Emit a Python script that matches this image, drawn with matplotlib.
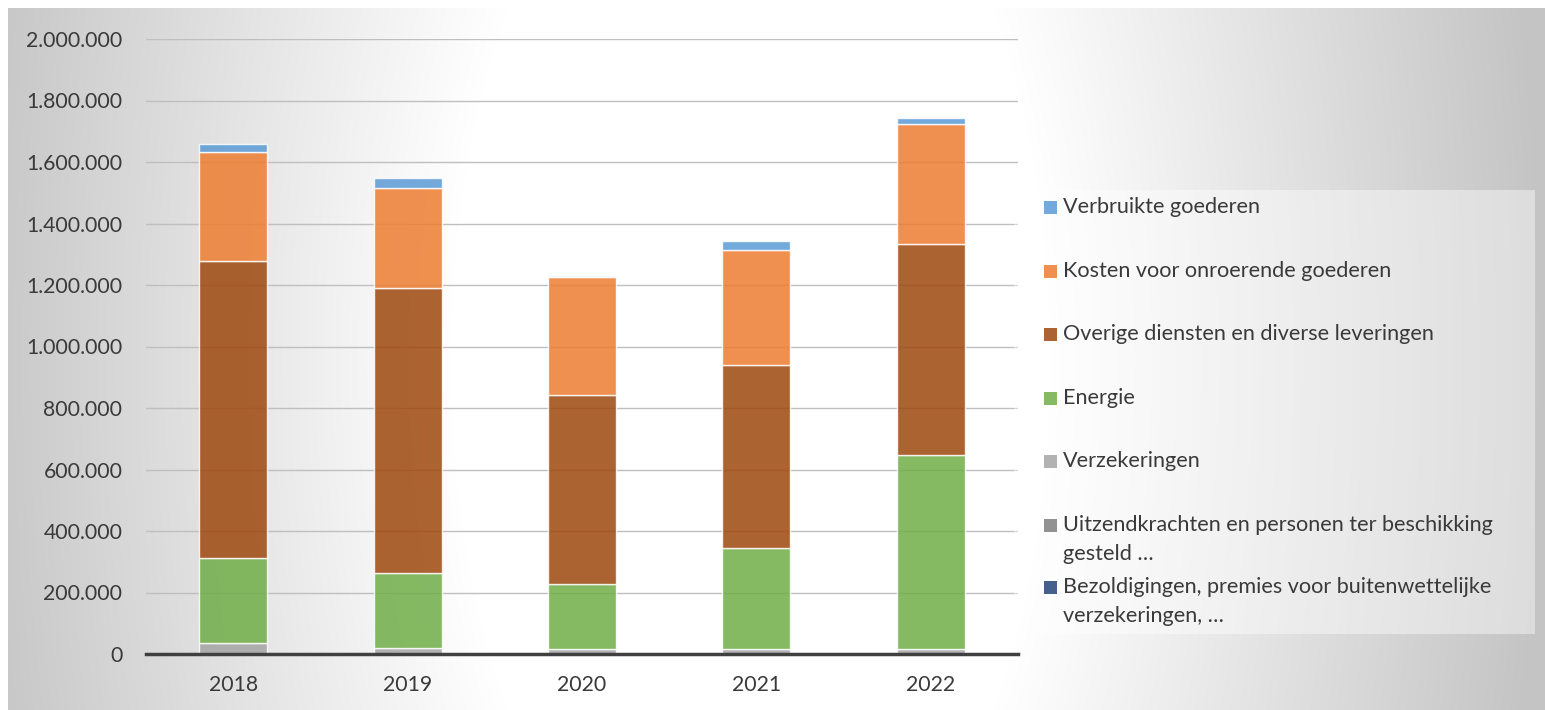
import numpy as np
import matplotlib
matplotlib.use("Agg")
import matplotlib.pyplot as plt
from matplotlib.patches import Rectangle
from matplotlib.ticker import FuncFormatter

# data (euro)
years = ["2018", "2019", "2020", "2021", "2022"]
bezoldigingen = [0, 0, 0, 0, 0]
uitzendkrachten = [0, 0, 0, 0, 0]
verzekeringen = [35000, 18000, 16000, 16000, 16000]
energie = [278000, 246000, 211000, 330000, 631000]
overige = [964000, 925000, 616000, 595000, 686000]
kosten = [355000, 328000, 383000, 373000, 392000]
verbruikte = [26000, 31000, 2000, 29000, 17000]

labels = [
    "Bezoldigingen, premies voor buitenwettelijke\nverzekeringen, \u2026",
    "Uitzendkrachten en personen ter beschikking\ngesteld \u2026",
    "Verzekeringen",
    "Energie",
    "Overige diensten en diverse leveringen",
    "Kosten voor onroerende goederen",
    "Verbruikte goederen",
]
series = [bezoldigingen, uitzendkrachten, verzekeringen, energie, overige, kosten, verbruikte]
colors = ["#264478", "#7f7f7f", "#a5a5a5", "#70ad47", "#9e480e", "#ed7d31", "#5b9bd5"]

W, H = 1545, 710
FONT = "Lato"
TXT = "#3a3a3a"

plt.rcParams["font.family"] = [FONT, "DejaVu Sans"]

fig = plt.figure(figsize=(W / 100, H / 100), dpi=100)

# background: soft radial-ish gradient, white 8px strip top/left
bg = fig.add_axes([0, 0, 1, 1], zorder=-10)
xx, yy = np.meshgrid(np.arange(W), np.arange(H))
eff = np.sqrt((xx - 750.0) ** 2 + ((yy - 360.0) * 0.5) ** 2)
g = 1 - np.clip((eff - 300) / 450, 0, None) * 0.21
g = np.clip(g, 0.77, 1)
g[(xx < 8) | (yy < 8)] = 1.0
bg.imshow(np.dstack([g, g, g]), aspect="auto", extent=[0, W, H, 0])
bg.set_xlim(0, W)
bg.set_ylim(H, 0)
bg.axis("off")


def fx(px):
    return px / W


def fy(py):
    return 1 - py / H


ax = fig.add_axes([fx(146), fy(654), fx(1018) - fx(146), fy(39) - fy(654)])
ax.set_facecolor("none")

x = np.arange(len(years))
bottom = np.zeros(len(years))
for vals, col, lab in zip(series, colors, labels):
    ax.bar(x, vals, width=0.39, bottom=bottom, color=col, alpha=0.85,
           edgecolor=(1, 1, 1, 0.6), linewidth=1.0, label=lab, zorder=3)
    bottom += np.array(vals)

ax.set_xlim(-0.5, len(years) - 0.5)
ax.set_ylim(0, 2000000)
ax.set_yticks(np.arange(0, 2000001, 200000))
ax.yaxis.set_major_formatter(FuncFormatter(lambda v, p: f"{int(v):,}".replace(",", ".")))
ax.set_xticks(x)
ax.set_xticklabels(years)
ax.grid(axis="y", color="#bfbfbf", linewidth=1.0, zorder=0)
ax.set_axisbelow(True)
for s in ["top", "right", "left"]:
    ax.spines[s].set_visible(False)
ax.spines["bottom"].set_color("#404040")
ax.spines["bottom"].set_linewidth(2.5)
ax.spines["bottom"].set_zorder(5)
ax.tick_params(axis="both", length=0, labelsize=15.3, labelcolor=TXT)
ax.tick_params(axis="y", pad=17)
ax.tick_params(axis="x", pad=15)

# legend box, drawn by hand to follow the spacing of the original
fig.add_artist(Rectangle((fx(1014), fy(634)), fx(1535) - fx(1014), fy(190) - fy(634),
                         transform=fig.transFigure, facecolor="white", alpha=0.42,
                         edgecolor="none", zorder=1))
entry_y = [207, 271, 334, 398, 461, 525, 587]
for yc, lab, col in zip(entry_y, labels[::-1], colors[::-1]):
    fig.add_artist(Rectangle((fx(1044), fy(yc + 7)), fx(13), 13 / H,
                             transform=fig.transFigure, facecolor=col, alpha=0.85,
                             edgecolor="none", zorder=2))
    for i, line in enumerate(lab.split("\n")):
        fig.text(fx(1063), fy(yc + i * 29), line, fontsize=15.6, color=TXT,
                 va="center", ha="left", zorder=3)

fig.savefig("out.png", dpi=100)
